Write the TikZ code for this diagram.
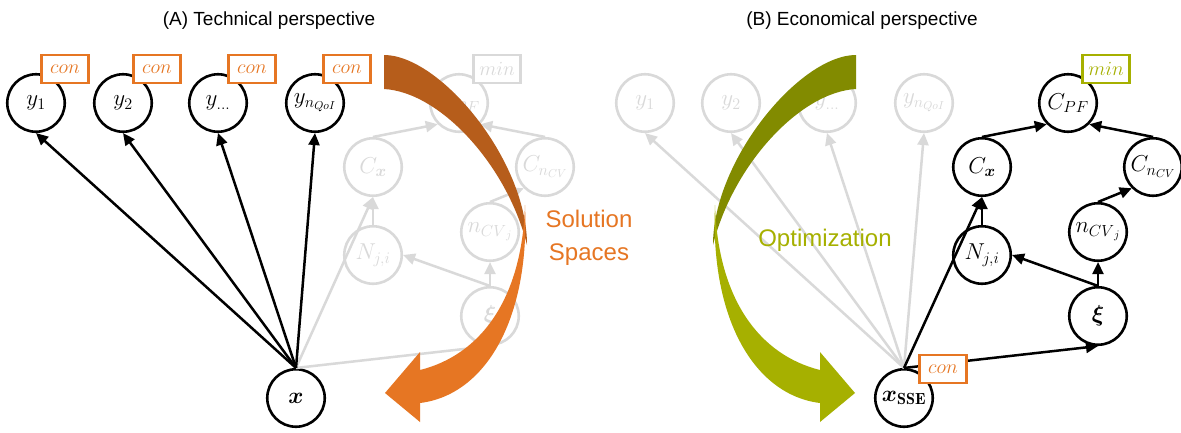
\RequirePackage{fix-cm}
\documentclass[tikz,border=0pt]{standalone}
\usepackage{fontspec}
\usepackage{amsmath,amsbsy}
\usetikzlibrary{arrows.meta}
\newfontfamily\arialf{Liberation Sans}
\definecolor{lgray}{RGB}{217,217,217}
\definecolor{orng}{RGB}{230,118,35}
\definecolor{brwn}{RGB}{182,93,27}
\definecolor{lgreen}{RGB}{166,176,0}
\definecolor{olive}{RGB}{130,139,0}
\newcommand\curvedarrowshape[2]{%
  \fill[#1] (384,55) .. controls (440,55) and (527,160) .. (527,245)
     .. controls (507,165) and (440,92) .. (384,89) -- cycle;
  \fill[#2] (525,205) .. controls (530,320) and (485,395) .. (420,403)
     -- (420,422) -- (385,393) -- (420,352) -- (420,370)
     .. controls (480,355) and (522,300) .. (525,205) -- cycle;
}
\begin{document}
\begin{tikzpicture}[x=1pt,y=-1pt,
  nd/.style={circle, draw=black, line width=2.6pt, minimum size=57.5pt, inner sep=0pt,
     font=\fontsize{23}{25}\selectfont},
  gnd/.style={nd, draw=lgray, text=lgray},
  edge/.style={line width=2.5pt, -{Triangle[length=12pt,width=11pt]}},
  gedge/.style={edge, draw=lgray},
  tagbox/.style={draw=#1, text=#1, fill=white, line width=2.5pt, minimum width=47pt,
     minimum height=28pt, inner sep=0pt, font=\fontsize{20}{22}\selectfont},
  title/.style={font=\arialf\fontsize{19}{22}\selectfont},
  big/.style={font=\arialf\fontsize{24}{33}\selectfont, align=center}
]
\useasboundingbox (0,0) rectangle (1181,432);
\fill[white] (0,0) rectangle (1181,432);

% titles
\node[title] (tA) at (269,21) {(A) Technical perspective};
\node[title] (tB) at (862,21) {(B) Economical perspective};

% ---------------- left panel: gray part
\node[gnd] (lCx) at (373,167) {$C_{\boldsymbol{x}}$};
\node[gnd] (lCPF) at (459,103) {$C_{PF}$};
\node[gnd] (lCn) at (545,167) {$C_{n_{CV}}$};
\node[gnd] (lN) at (373,255) {$N_{j,i}$};
\node[gnd] (lnc) at (490,232) {$n_{{CV}_j}$};
\node[gnd] (lxi) at (490,316) {$\boldsymbol{\xi}$};

% ---------------- right panel: gray part
\node[gnd] (ry1) at (645,103) {$y_1$};
\node[gnd] (ry2) at (731,103) {$y_2$};
\node[gnd] (ry3) at (827,103) {$y_{\ldots}$};
\node[gnd] (ry4) at (924,103) {$y_{n_{QoI}}$};

% ---------------- left panel: black part
\node[nd] (ly1) at (36,103) {$y_1$};
\node[nd] (ly2) at (123,103) {$y_2$};
\node[nd] (ly3) at (218,103) {$y_{\ldots}$};
\node[nd] (ly4) at (315,103) {$y_{n_{QoI}}$};
\node[nd] (lx) at (296,398) {$\boldsymbol{x}$};

% ---------------- right panel: black part
\node[nd] (rCx) at (982,167) {$C_{\boldsymbol{x}}$};
\node[nd] (rCPF) at (1068,103) {$C_{PF}$};
\node[nd] (rCn) at (1153,167) {$C_{n_{CV}}$};
\node[nd] (rN) at (982,255) {$N_{j,i}$};
\node[nd] (rnc) at (1098,232) {$n_{{CV}_j}$};
\node[nd] (rxi) at (1098,316) {$\boldsymbol{\xi}$};
\node[nd] (rx) at (904,398) {$\boldsymbol{x}_{\mathbf{SSE}}$};

% gray edges
\draw[gedge] (lx.north) -- (lCx.south);
\draw[gedge] (lN.north) -- (lCx.south);
\draw[gedge] (lCx.north) -- (lCPF.south west);
\draw[gedge] (lCn.north) -- (lCPF.south east);
\draw[gedge] (lnc.north) -- (lCn.south west);
\draw[gedge] (lxi.north) -- (lnc.south);
\draw[gedge] (lxi.north) -- (lN.east);
\draw[gedge] (lx.north) -- (lxi.south);
\draw[gedge] (rx.north) -- (ry1.south);
\draw[gedge] (rx.north) -- (ry2.south);
\draw[gedge] (rx.north) -- (ry3.south);
\draw[gedge] (rx.north) -- (ry4.south);
\node[tagbox=lgray] (lmin) at (497,69) {$min$};

% big curved arrows
\curvedarrowshape{brwn}{orng}
\begin{scope}[x=-1pt, xshift=1240pt]
\curvedarrowshape{olive}{lgreen}
\end{scope}

% black edges
\draw[edge] (lx.north) -- (ly1.south);
\draw[edge] (lx.north) -- (ly2.south);
\draw[edge] (lx.north) -- (ly3.south);
\draw[edge] (lx.north) -- (ly4.south);

\draw[edge] (rx.north) -- (rCx.south);
\draw[edge] (rN.north) -- (rCx.south);
\draw[edge] (rCx.north) -- (rCPF.south west);
\draw[edge] (rCn.north) -- (rCPF.south east);
\draw[edge] (rnc.north) -- (rCn.south west);
\draw[edge] (rxi.north) -- (rnc.south);
\draw[edge] (rxi.north) -- (rN.east);
\draw[edge] (rx.north) -- (rxi.south);

% tag boxes
\node[tagbox=orng] (c1) at (65,69) {$con$};
\node[tagbox=orng] (c2) at (157,69) {$con$};
\node[tagbox=orng] (c3) at (252,69) {$con$};
\node[tagbox=orng] (c4) at (347,69) {$con$};
\node[tagbox=lgreen] (rmin) at (1106,69) {$min$};
\node[tagbox=orng] (rcon) at (943,369) {$con$};

% labels
\node[big, text=orng] (sol) at (589,238) {Solution\\Spaces};
\node[big, text=lgreen] (opt) at (825,240) {Optimization};
\end{tikzpicture}
\end{document}
